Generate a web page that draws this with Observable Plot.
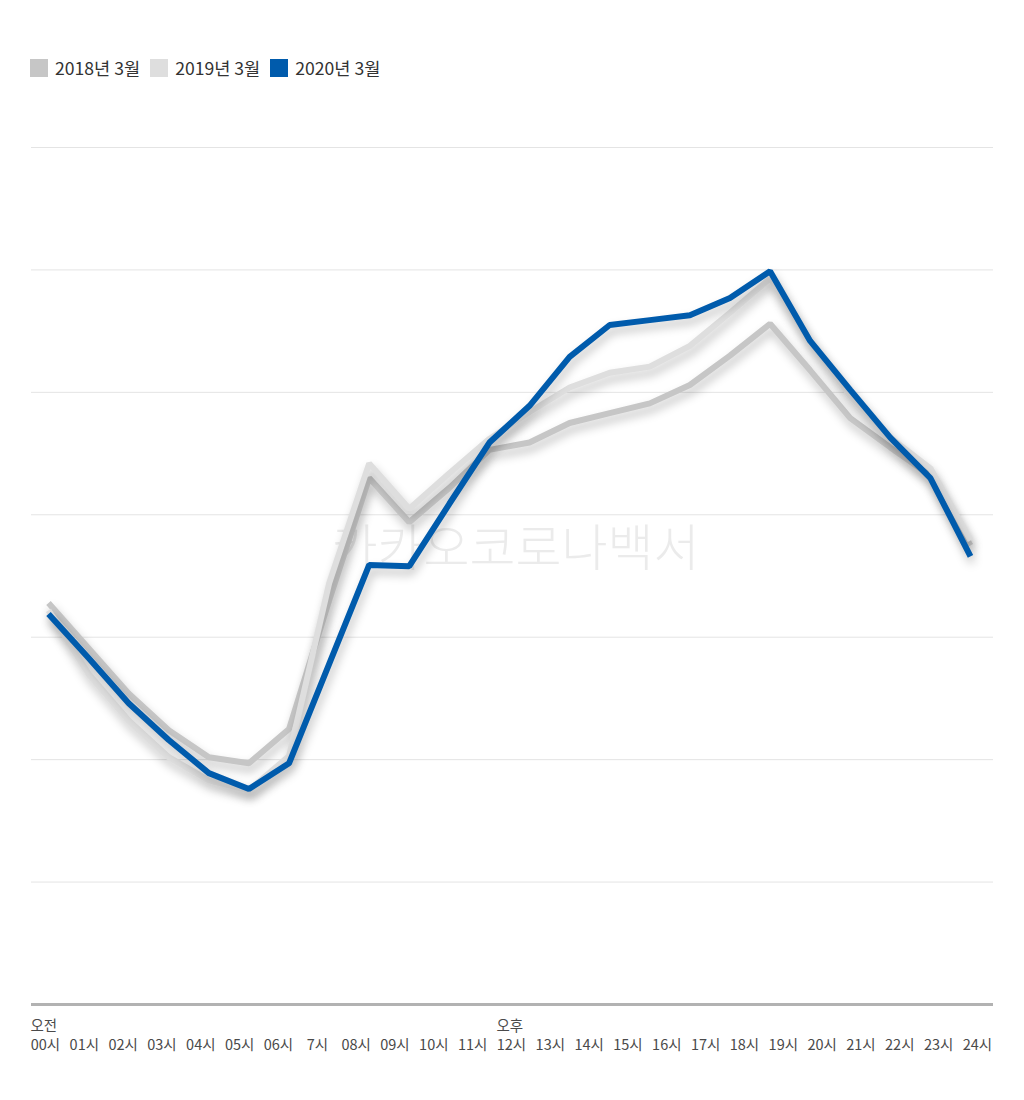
<!DOCTYPE html>
<html>
<head>
<meta charset="utf-8">
<script src="https://cdn.jsdelivr.net/npm/d3@7"></script>
<script src="https://cdn.jsdelivr.net/npm/@observablehq/plot@0.6"></script>
<style>
  html, body { margin: 0; padding: 0; background: #fff; }
  body { width: 1024px; height: 1100px; font-family: "Noto Sans CJK KR", "Noto Sans", sans-serif; }
  #legend { height: 100px; box-sizing: border-box; padding: 59px 0 0 30px; display: flex; align-items: flex-start; }
  #legend .item { display: flex; align-items: center; margin-right: 10px; font-size: 17.6px; color: #333; height: 18px; line-height: 18px; }
  #legend .sw { width: 18px; height: 18px; margin-right: 7px; flex: none; }
  svg g[aria-label="line"] path { filter: drop-shadow(2px 6px 5px rgba(0,0,0,0.24)); }
</style>
</head>
<body>
<div id="legend"></div>
<div id="chart"></div>
<script>
const seriesNames = ["2018년 3월", "2019년 3월", "2020년 3월"];
const seriesColors = ["#c6c6c6", "#dedede", "#005bac"];
const hours = [0,1,2,3,4,5,6,7,8,9,10,11,12,13,14,15,16,17,18,19,20,21,22,23];
const tickLabels = ["00시","01시","02시","03시","04시","05시","06시","7시","08시","09시","10시","11시","12시",
  "13시","14시","15시","16시","17시","18시","19시","20시","21시","22시","23시","24시"];
const v2018 = [32.8,29.1,25.4,22.4,20.2,19.7,22.5,33.0,43.0,39.4,42.2,45.3,45.9,47.5,48.3,49.1,50.6,53.0,55.6,51.8,47.9,45.5,43.2,37.5];
const v2019 = [32.2,27.0,23.2,20.2,18.3,17.5,20.3,34.4,44.2,40.5,43.4,46.2,48.4,50.4,51.6,52.1,53.8,56.5,59.3,54.2,49.7,46.3,43.8,37.9];
const v2020 = [31.9,28.3,24.6,21.6,18.9,17.6,19.7,27.8,35.9,35.8,40.9,45.9,48.9,52.9,55.5,55.9,56.3,57.7,59.9,54.2,50.2,46.3,43.0,36.6];
const gridValues = [10,20,30,40,50,60,70];
const periodLabels = [{label: "오전", at: 0}, {label: "오후", at: 12}];
const watermark = "카카오코로나백서";

const seriesValues = [v2018, v2019, v2020];
const rows = seriesNames.flatMap((name, s) => hours.map((h, i) => ({series: name, hour: h, value: seriesValues[s][i]})));

// legend
const legend = document.getElementById("legend");
seriesNames.forEach((n, i) => {
  const it = document.createElement("div");
  it.className = "item";
  it.innerHTML = `<span class="sw" style="background:${seriesColors[i]}"></span><span>${n}</span>`;
  legend.appendChild(it);
});

// tick labels are spread evenly across the axis width (25 labels for 24 points)
const labelStart = -0.075, labelStep = 0.9687;
const labelX = (i) => labelStart + i * labelStep;

const chart = Plot.plot({
  width: 1024,
  height: 1000,
  marginLeft: 31,
  marginRight: 31,
  marginTop: 47,
  marginBottom: 96,
  style: {fontFamily: '"Noto Sans CJK KR", "Noto Sans", sans-serif', background: "transparent"},
  x: {domain: [-0.424, 23.574], axis: null},
  y: {domain: [0, 70], axis: null},
  color: {domain: seriesNames, range: seriesColors},
  marks: [
    Plot.ruleY(gridValues, {stroke: "#e4e4e4", strokeWidth: 1}),
    Plot.ruleY([0], {stroke: "#b2b2b2", strokeWidth: 3}),
    Plot.text([watermark], {frameAnchor: "middle", dy: -26, dx: 3, fontSize: 50, fill: "#ebebeb", fontWeight: 300}),
    Plot.line(rows, {x: "hour", y: "value", z: "series", stroke: "series", strokeWidth: 6,
      strokeLinejoin: "miter", strokeLinecap: "butt"}),
    Plot.text(tickLabels, {x: (d, i) => labelX(i), y: 0, dy: 41, text: d => d, fontSize: 14.5, fill: "#4a4a4a", textAnchor: "middle"}),
    Plot.text(periodLabels, {x: d => labelX(d.at), y: 0, dy: 22, dx: -15, text: "label", fontSize: 14.5, fill: "#4a4a4a", textAnchor: "start"})
  ]
});
document.getElementById("chart").appendChild(chart);
</script>
</body>
</html>
